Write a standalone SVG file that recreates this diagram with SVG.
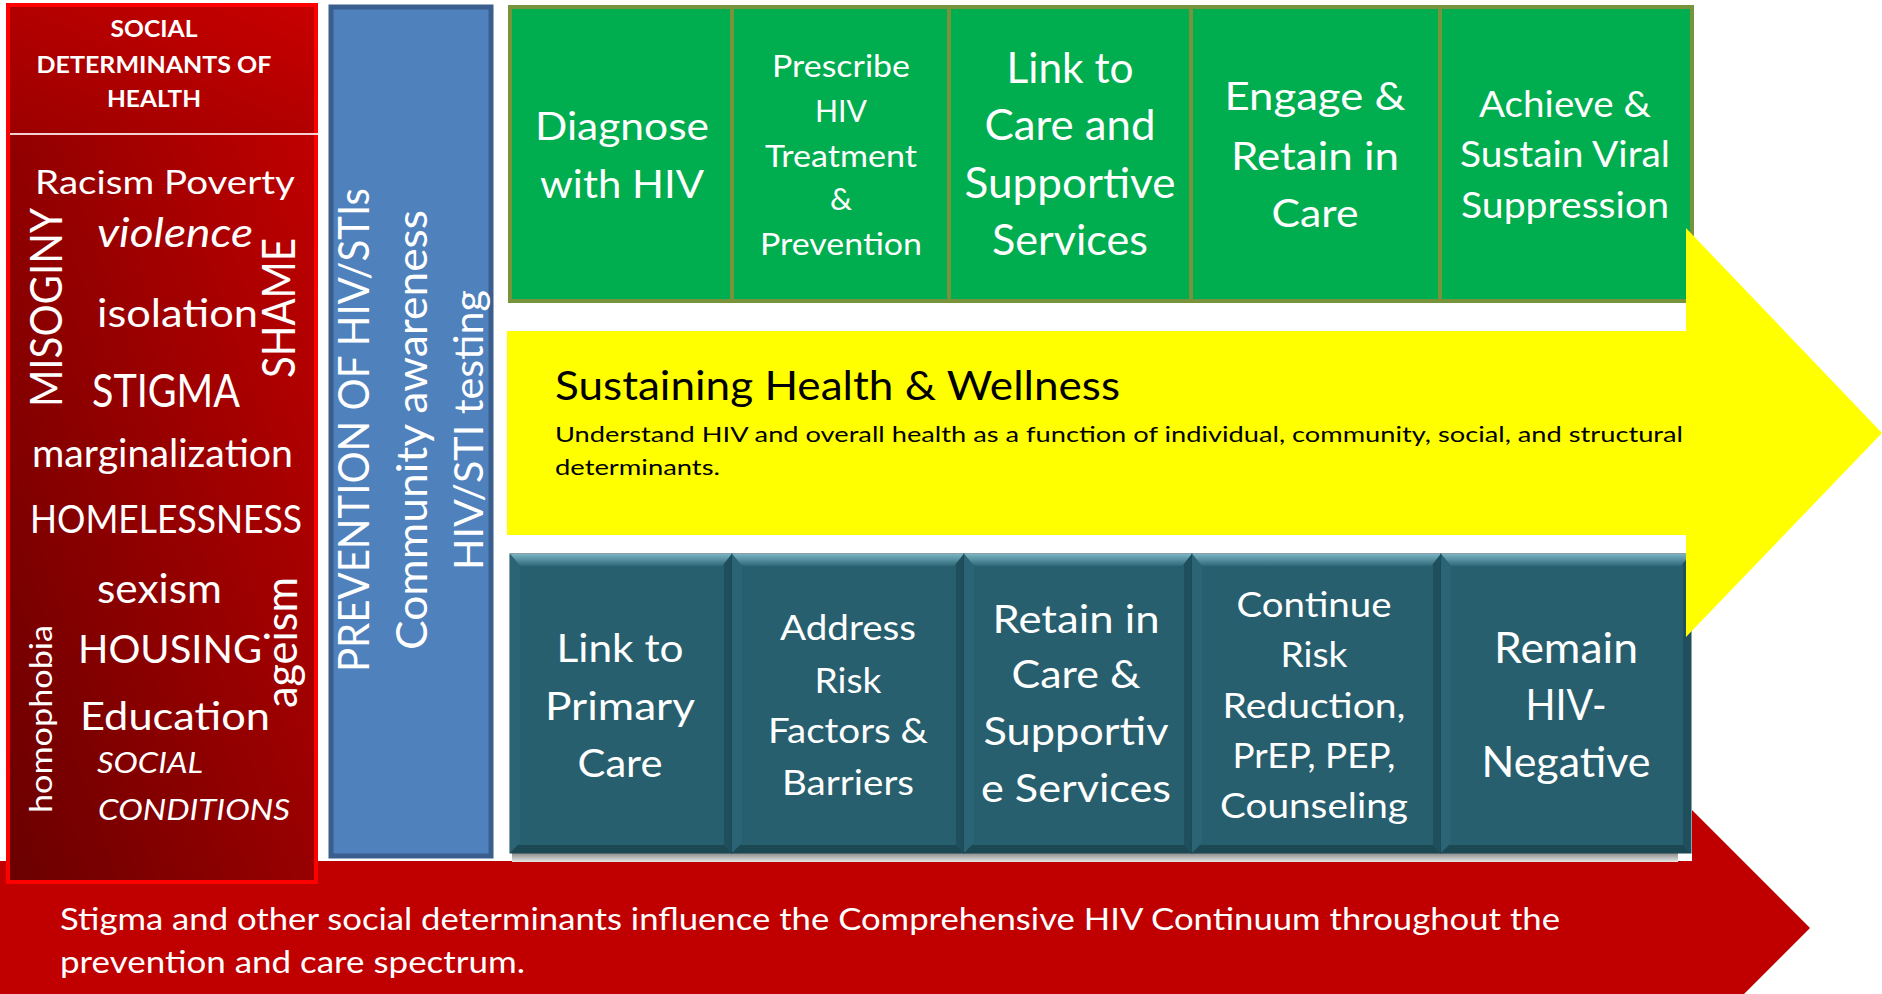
<svg xmlns="http://www.w3.org/2000/svg" width="1882" height="994" viewBox="0 0 1882 994">
<style>
text{font-family:Lato,"Liberation Sans",sans-serif;fill:#fff}
.c{text-anchor:middle}
.blk{fill:#000}
.b{font-weight:bold}
.i{font-style:italic}
.green{fill:#00AD4F;stroke:#77933C;stroke-width:4}
.tb{fill:#285F6F;stroke:#1d4752;stroke-width:1}
.tt{fill:url(#tealTop)}
.tl{fill:#2b6474}
.tr{fill:#1f4f5d}
.tbot{fill:#1c4854}
</style>
<defs>
<linearGradient id="redPanel" x1="0" y1="1" x2="1" y2="0">
<stop offset="0" stop-color="#6a0000"/>
<stop offset="1" stop-color="#c60000"/>
</linearGradient>
<linearGradient id="redHead" x1="0" y1="1" x2="1" y2="0">
<stop offset="0" stop-color="#9c0000"/>
<stop offset="1" stop-color="#c80000"/>
</linearGradient>
<linearGradient id="tealTop" x1="0" y1="0" x2="0" y2="1">
<stop offset="0" stop-color="#7ab3c2"/>
<stop offset="1" stop-color="#2f6979"/>
</linearGradient>
<linearGradient id="shadow" x1="0" y1="0" x2="0" y2="1">
<stop offset="0" stop-color="#8a8a8a"/>
<stop offset="1" stop-color="#e6e6e6"/>
</linearGradient>
</defs>

<g id="stigma-arrow">
<polygon points="0,861 1692,861 1692,810 1810,928 1692,1046 0,1046" fill="#C00000"/>
<text x="60" y="930" font-size="30" textLength="1500" lengthAdjust="spacingAndGlyphs">Stigma and other social determinants influence the Comprehensive HIV Continuum throughout the</text>
<text x="60" y="973" font-size="30" textLength="465" lengthAdjust="spacingAndGlyphs">prevention and care spectrum.</text>
</g>

<g id="social-determinants">
<rect x="8" y="5" width="308" height="877" fill="url(#redPanel)" stroke="#FF0000" stroke-width="4"/>
<rect x="10" y="7" width="304" height="126" fill="url(#redHead)"/>
<line x1="10" y1="134" x2="318" y2="134" stroke="#f4d0d0" stroke-width="2"/>
<text class="c b" x="154" y="37" font-size="22" textLength="87" lengthAdjust="spacingAndGlyphs">SOCIAL</text>
<text class="c b" x="154" y="73" font-size="22" textLength="235" lengthAdjust="spacingAndGlyphs">DETERMINANTS OF</text>
<text class="c b" x="154" y="107" font-size="22" textLength="94" lengthAdjust="spacingAndGlyphs">HEALTH</text>
<text x="35" y="194" font-size="33" textLength="260" lengthAdjust="spacingAndGlyphs">Racism Poverty</text>
<text class="i" x="97" y="247" font-size="40" textLength="156" lengthAdjust="spacingAndGlyphs">violence</text>
<text x="97" y="327" font-size="38" textLength="161" lengthAdjust="spacingAndGlyphs">isolation</text>
<text x="92" y="407" font-size="46" textLength="148" lengthAdjust="spacingAndGlyphs">STIGMA</text>
<text x="32" y="467" font-size="38" textLength="261" lengthAdjust="spacingAndGlyphs">marginalization</text>
<text x="30" y="533" font-size="38" textLength="272" lengthAdjust="spacingAndGlyphs">HOMELESSNESS</text>
<text x="97" y="603" font-size="40" textLength="125" lengthAdjust="spacingAndGlyphs">sexism</text>
<text x="78" y="663" font-size="39" textLength="184" lengthAdjust="spacingAndGlyphs">HOUSING</text>
<text x="80" y="730" font-size="38" textLength="190" lengthAdjust="spacingAndGlyphs">Education</text>
<text class="i" x="97" y="773" font-size="28" textLength="106" lengthAdjust="spacingAndGlyphs">SOCIAL</text>
<text class="i" x="98" y="820" font-size="28" textLength="192" lengthAdjust="spacingAndGlyphs">CONDITIONS</text>
<text transform="translate(62,407) rotate(-90)" font-size="45" textLength="199" lengthAdjust="spacingAndGlyphs">MISOGINY</text>
<text transform="translate(295,378) rotate(-90)" font-size="46" textLength="140" lengthAdjust="spacingAndGlyphs">SHAME</text>
<text transform="translate(52,813) rotate(-90)" font-size="30" textLength="188" lengthAdjust="spacingAndGlyphs">homophobia</text>
<text transform="translate(297,708) rotate(-90)" font-size="45" textLength="131" lengthAdjust="spacingAndGlyphs">ageism</text>
</g>

<g id="prevention">
<rect x="331" y="7" width="160" height="849" fill="#4F81BD" stroke="#3A5F8E" stroke-width="5"/>
<text transform="translate(369,672) rotate(-90)" font-size="42" textLength="484" lengthAdjust="spacingAndGlyphs">PREVENTION OF HIV/STIs</text>
<text transform="translate(427,650) rotate(-90)" font-size="42" textLength="440" lengthAdjust="spacingAndGlyphs">Community awareness</text>
<text transform="translate(483,570) rotate(-90)" font-size="40" textLength="280" lengthAdjust="spacingAndGlyphs">HIV/STI testing</text>
</g>

<g id="green-row">
<g id="diagnose">
<rect class="green" x="510" y="7" width="222" height="294"/>
<text class="c" x="622" y="140" font-size="39" textLength="174" lengthAdjust="spacingAndGlyphs">Diagnose</text>
<text class="c" x="622" y="198" font-size="39" textLength="164" lengthAdjust="spacingAndGlyphs">with HIV</text>
</g>
<g id="prescribe">
<rect class="green" x="732" y="7" width="217" height="294"/>
<text class="c" x="841" y="77" font-size="31" textLength="138" lengthAdjust="spacingAndGlyphs">Prescribe</text>
<text class="c" x="841" y="122" font-size="31" textLength="52" lengthAdjust="spacingAndGlyphs">HIV</text>
<text class="c" x="841" y="167" font-size="31" textLength="152" lengthAdjust="spacingAndGlyphs">Treatment</text>
<text class="c" x="841" y="210" font-size="31">&amp;</text>
<text class="c" x="841" y="255" font-size="31" textLength="162" lengthAdjust="spacingAndGlyphs">Prevention</text>
</g>
<g id="link-care">
<rect class="green" x="949" y="7" width="242" height="294"/>
<text class="c" x="1070" y="83" font-size="42" textLength="127" lengthAdjust="spacingAndGlyphs">Link to</text>
<text class="c" x="1070" y="140" font-size="42" textLength="171" lengthAdjust="spacingAndGlyphs">Care and</text>
<text class="c" x="1070" y="198" font-size="42" textLength="211" lengthAdjust="spacingAndGlyphs">Supportive</text>
<text class="c" x="1070" y="255" font-size="42" textLength="156" lengthAdjust="spacingAndGlyphs">Services</text>
</g>
<g id="engage">
<rect class="green" x="1191" y="7" width="249" height="294"/>
<text class="c" x="1315" y="110" font-size="38" textLength="181" lengthAdjust="spacingAndGlyphs">Engage &amp;</text>
<text class="c" x="1315" y="170" font-size="38" textLength="168" lengthAdjust="spacingAndGlyphs">Retain in</text>
<text class="c" x="1315" y="227" font-size="38" textLength="87" lengthAdjust="spacingAndGlyphs">Care</text>
</g>
<g id="achieve">
<rect class="green" x="1440" y="7" width="252" height="294"/>
<text class="c" x="1565" y="117" font-size="36" textLength="172" lengthAdjust="spacingAndGlyphs">Achieve &amp;</text>
<text class="c" x="1565" y="167" font-size="36" textLength="210" lengthAdjust="spacingAndGlyphs">Sustain Viral</text>
<text class="c" x="1565" y="218" font-size="36" textLength="208" lengthAdjust="spacingAndGlyphs">Suppression</text>
</g>
</g>

<g id="teal-row">
<rect x="512" y="853" width="1166" height="9" fill="url(#shadow)"/>
<g id="link-primary">
<rect class="tb" x="510" y="554" width="222" height="299"/>
<polygon class="tt" points="510,554 732,554 722,566 520,566"/>
<polygon class="tl" points="510,554 520,566 520,843 510,853"/>
<polygon class="tr" points="732,554 732,853 724,845 724,564"/>
<polygon class="tbot" points="510,853 732,853 724,845 518,845"/>
<text class="c" x="620" y="662" font-size="39" textLength="127" lengthAdjust="spacingAndGlyphs">Link to</text>
<text class="c" x="620" y="720" font-size="39" textLength="150" lengthAdjust="spacingAndGlyphs">Primary</text>
<text class="c" x="620" y="777" font-size="39" textLength="85" lengthAdjust="spacingAndGlyphs">Care</text>
</g>
<g id="address-risk">
<rect class="tb" x="732" y="554" width="232" height="299"/>
<polygon class="tt" points="732,554 964,554 954,566 742,566"/>
<polygon class="tl" points="732,554 742,566 742,843 732,853"/>
<polygon class="tr" points="964,554 964,853 956,845 956,564"/>
<polygon class="tbot" points="732,853 964,853 956,845 740,845"/>
<text class="c" x="848" y="640" font-size="35" textLength="136" lengthAdjust="spacingAndGlyphs">Address</text>
<text class="c" x="848" y="693" font-size="35" textLength="67" lengthAdjust="spacingAndGlyphs">Risk</text>
<text class="c" x="848" y="743" font-size="35" textLength="160" lengthAdjust="spacingAndGlyphs">Factors &amp;</text>
<text class="c" x="848" y="795" font-size="35" textLength="132" lengthAdjust="spacingAndGlyphs">Barriers</text>
</g>
<g id="retain-care">
<rect class="tb" x="964" y="554" width="228" height="299"/>
<polygon class="tt" points="964,554 1192,554 1182,566 974,566"/>
<polygon class="tl" points="964,554 974,566 974,843 964,853"/>
<polygon class="tr" points="1192,554 1192,853 1184,845 1184,564"/>
<polygon class="tbot" points="964,853 1192,853 1184,845 972,845"/>
<text class="c" x="1076" y="633" font-size="39" textLength="167" lengthAdjust="spacingAndGlyphs">Retain in</text>
<text class="c" x="1076" y="688" font-size="39" textLength="129" lengthAdjust="spacingAndGlyphs">Care &amp;</text>
<text class="c" x="1076" y="745" font-size="39" textLength="185" lengthAdjust="spacingAndGlyphs">Supportiv</text>
<text class="c" x="1076" y="802" font-size="39" textLength="190" lengthAdjust="spacingAndGlyphs">e Services</text>
</g>
<g id="continue-risk">
<rect class="tb" x="1192" y="554" width="249" height="299"/>
<polygon class="tt" points="1192,554 1441,554 1431,566 1202,566"/>
<polygon class="tl" points="1192,554 1202,566 1202,843 1192,853"/>
<polygon class="tr" points="1441,554 1441,853 1433,845 1433,564"/>
<polygon class="tbot" points="1192,853 1441,853 1433,845 1200,845"/>
<text class="c" x="1314" y="617" font-size="35" textLength="155" lengthAdjust="spacingAndGlyphs">Continue</text>
<text class="c" x="1314" y="667" font-size="35" textLength="67" lengthAdjust="spacingAndGlyphs">Risk</text>
<text class="c" x="1314" y="718" font-size="35" textLength="183" lengthAdjust="spacingAndGlyphs">Reduction,</text>
<text class="c" x="1314" y="768" font-size="35" textLength="163" lengthAdjust="spacingAndGlyphs">PrEP, PEP,</text>
<text class="c" x="1314" y="818" font-size="35" textLength="188" lengthAdjust="spacingAndGlyphs">Counseling</text>
</g>
<g id="remain-negative">
<rect class="tb" x="1441" y="554" width="250" height="299"/>
<polygon class="tt" points="1441,554 1691,554 1681,566 1451,566"/>
<polygon class="tl" points="1441,554 1451,566 1451,843 1441,853"/>
<polygon class="tr" points="1691,554 1691,853 1683,845 1683,564"/>
<polygon class="tbot" points="1441,853 1691,853 1683,845 1449,845"/>
<text class="c" x="1566" y="663" font-size="42" textLength="144" lengthAdjust="spacingAndGlyphs">Remain</text>
<text class="c" x="1566" y="720" font-size="42" textLength="81" lengthAdjust="spacingAndGlyphs">HIV-</text>
<text class="c" x="1566" y="777" font-size="42" textLength="169" lengthAdjust="spacingAndGlyphs">Negative</text>
</g>
</g>

<g id="wellness-arrow">
<polygon points="507,331 1686,331 1686,228 1882,433 1686,637 1686,535 507,535" fill="#FFFF00"/>
<text class="blk" x="555" y="400" font-size="40" textLength="565" lengthAdjust="spacingAndGlyphs">Sustaining Health &amp; Wellness</text>
<text class="blk" x="555" y="442" font-size="22" textLength="1128" lengthAdjust="spacingAndGlyphs">Understand HIV and overall health as a function of individual, community, social, and structural</text>
<text class="blk" x="555" y="475" font-size="22" textLength="165" lengthAdjust="spacingAndGlyphs">determinants.</text>
</g>
</svg>
